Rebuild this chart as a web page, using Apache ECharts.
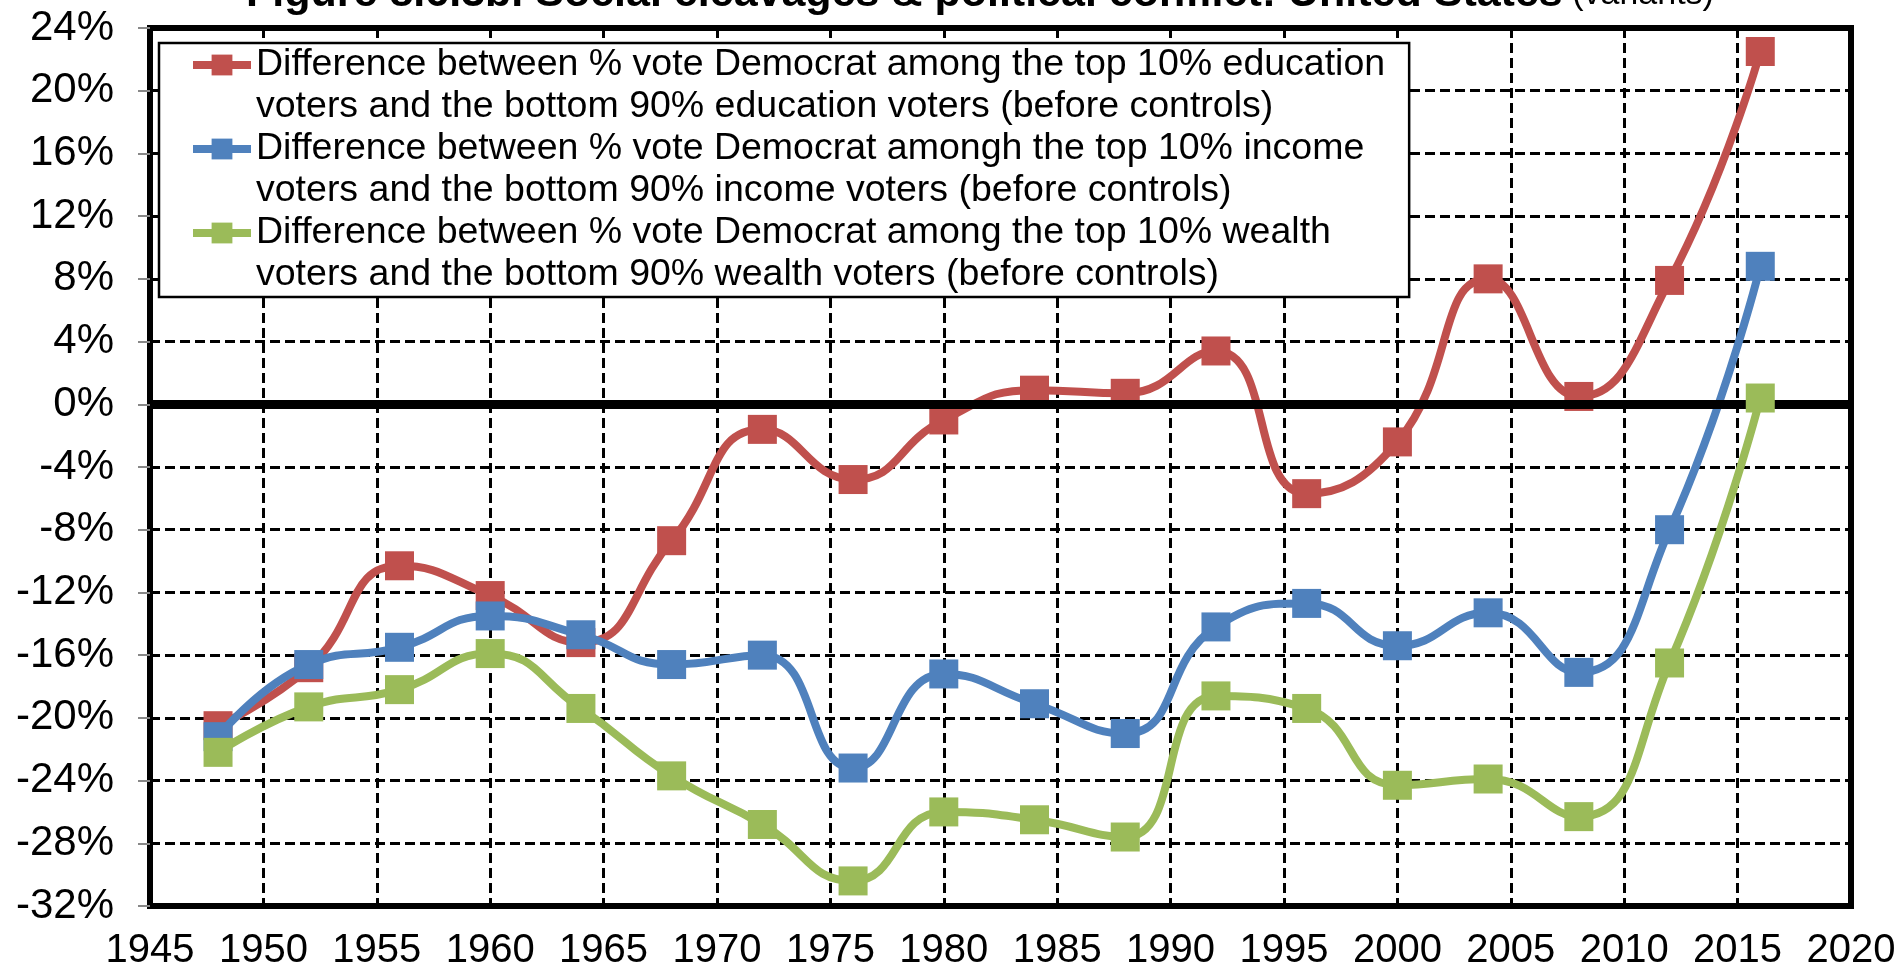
<!DOCTYPE html>
<html>
<head>
<meta charset="utf-8">
<script src="https://cdn.jsdelivr.net/npm/echarts@6/dist/echarts.min.js"></script>
<style>
html,body{margin:0;padding:0;background:#fff;}
#chart{width:1904px;height:971px;}
</style>
</head>
<body>
<div id="chart"></div>
<script>
const years = [1948, 1952, 1956, 1960, 1964, 1968, 1972, 1976, 1980, 1984, 1988, 1992, 1996, 2000, 2004, 2008, 2012, 2016];
const education = [-20.5, -16.8, -10.3, -12.2, -15.2, -8.7, -1.6, -4.8, -1.0, 0.9, 0.7, 3.4, -5.7, -2.4, 8.0, 0.5, 7.9, 22.5];
const income = [-21.2, -16.6, -15.5, -13.5, -14.7, -16.6, -16.0, -23.2, -17.2, -19.1, -21.0, -14.2, -12.7, -15.4, -13.3, -17.1, -8.0, 8.8];
const wealth = [-22.2, -19.3, -18.2, -15.9, -19.4, -23.7, -26.8, -30.4, -26.0, -26.5, -27.6, -18.6, -19.4, -24.3, -23.9, -26.3, -16.5, 0.4];
const seriesNames = [
  'Difference between % vote Democrat among the top 10% education\nvoters and the bottom 90% education voters (before controls)',
  'Difference between % vote Democrat amongh the top 10% income\nvoters and the bottom 90% income voters (before controls)',
  'Difference between % vote Democrat among the top 10% wealth\nvoters and the bottom 90% wealth voters (before controls)'
];
const seriesColors = ['#C0504D', '#4F81BD', '#9BBB59'];
const titleMain = 'Figure 8.6.3b. Social cleavages & political conflict: United States';
const titleSub = ' (variants)';

const FONT = '"Liberation Sans", Arial, sans-serif';
const chart = echarts.init(document.getElementById('chart'));

function pairs(vals) { return years.map((y, i) => [y, vals[i]]); }
const allData = [education, income, wealth];

const series = allData.map((vals, i) => ({
  name: seriesNames[i],
  type: 'line',
  data: pairs(vals),
  smooth: 0.5,
  symbol: 'rect',
  symbolSize: 29,
  lineStyle: { color: seriesColors[i], width: 8 },
  itemStyle: { color: seriesColors[i] },
  z: 3 + i
}));
series[2].markLine = {
  silent: true,
  symbol: ['none', 'none'],
  label: { show: false },
  lineStyle: { color: '#000', width: 9, type: 'solid' },
  data: [{ yAxis: 0 }]
};

chart.setOption({
  animation: false,
  backgroundColor: '#fff',
  title: {
    text: '{b|' + titleMain + '}{n|' + titleSub + '}',
    left: 975,
    textAlign: 'center',
    top: -32,
    textStyle: {
      rich: {
        b: { fontFamily: FONT, fontSize: 43, fontWeight: 'bold', color: '#000' },
        n: { fontFamily: FONT, fontSize: 34, fontWeight: 'normal', color: '#000' }
      }
    }
  },
  grid: {
    left: 150, right: 53, top: 28, bottom: 64,
    show: true, borderColor: '#000', borderWidth: 6, backgroundColor: 'transparent'
  },
  legend: {
    orient: 'vertical',
    left: 159,
    top: 43,
    padding: [-20, 24, 3, 30],
    itemGap: -19,
    itemWidth: 58,
    itemHeight: 26,
    backgroundColor: '#fff',
    borderColor: '#000',
    borderWidth: 2.5,
    borderRadius: 0,
    selectedMode: false,
    lineStyle: { width: 8 },
    formatter: function (name) {
      const parts = name.split('\n');
      return '{t|' + parts[0] + '}\n{t|' + parts[1] + '}';
    },
    textStyle: {
      fontFamily: FONT, fontSize: 37.5, color: '#000', lineHeight: 42,
      padding: [21, 0, -21, 0],
      rich: {
        t: { fontFamily: FONT, fontSize: 37.5, color: '#000', lineHeight: 42 }
      }
    },
    data: seriesNames
  },
  xAxis: {
    type: 'value',
    min: 1945, max: 2020, interval: 5,
    axisLine: { show: true, lineStyle: { color: '#000', width: 6 } },
    axisTick: { show: false },
    axisLabel: { fontFamily: FONT, fontSize: 40, color: '#000', margin: 25, formatter: function (v) { return String(v); } },
    splitLine: { show: true, lineStyle: { color: '#000', width: 3, type: [10, 5] } }
  },
  yAxis: {
    type: 'value',
    min: -32, max: 24, interval: 4,
    axisLine: { show: true, lineStyle: { color: '#000', width: 6 } },
    axisTick: { show: true, length: 12, lineStyle: { color: '#888', width: 2 } },
    axisLabel: { fontFamily: FONT, fontSize: 42, color: '#000', margin: 36, formatter: '{value}%' },
    splitLine: { show: true, lineStyle: { color: '#000', width: 3, type: [10, 5] } }
  },
  series: series
});
</script>
</body>
</html>
